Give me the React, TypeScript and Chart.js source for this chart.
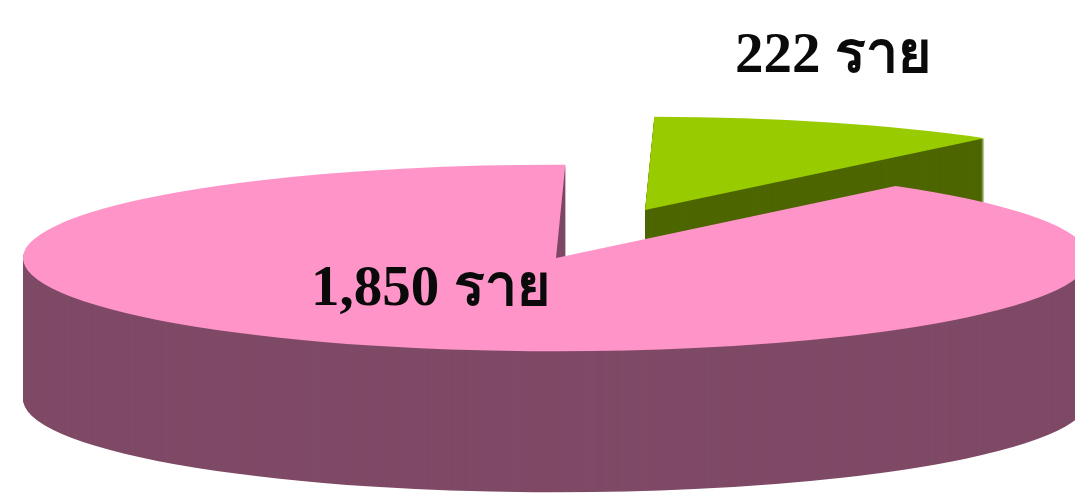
import React, { useEffect, useRef } from "react";
import { Chart, registerables } from "chart.js";

Chart.register(...registerables);

const categories = ["กลุ่ม A", "กลุ่ม B"];
const patients = [222, 1850];
const sliceLabels = ["222 ราย", "1,850 ราย"];
const topColors = ["#99cc00", "#ff94c9"];
const sideColors = ["#4d6600", "#7f4a66"];
const explode = [288, 0];

const RADIUS = 533;
const SQUASH = 0.175;
const CENTER_X = 556;
const CENTER_Y = 258;
const DEPTH = 141;
const EXPLODE_ANGLE = ((18 - 90) * Math.PI) / 180;

const drawSlice = (chart: any, i: number, color: string, dy: number) => {
  const ctx = chart.ctx;
  const arc = chart.getDatasetMeta(0).data[i];
  const saved = arc.options.backgroundColor;
  arc.options.backgroundColor = color;
  ctx.save();
  ctx.translate(CENTER_X, CENTER_Y + dy);
  ctx.scale(1, SQUASH);
  ctx.translate(Math.cos(EXPLODE_ANGLE) * explode[i], Math.sin(EXPLODE_ANGLE) * explode[i]);
  ctx.translate(-arc.x, -arc.y);
  arc.draw(ctx);
  ctx.restore();
  arc.options.backgroundColor = saved;
};

const pie3d = {
  id: "pie3d",
  beforeDatasetsDraw(chart: any) {
    // green wedge first, so the big pink slice overlaps it
    [0, 1].forEach((i) => {
      for (let d = DEPTH; d > 0; d -= 1) drawSlice(chart, i, sideColors[i], d);
      drawSlice(chart, i, topColors[i], 0);
    });
    return false;
  },
  afterDraw(chart: any) {
    const ctx = chart.ctx;
    ctx.save();
    ctx.fillStyle = "#0a0a0a";
    ctx.font = 'bold 57px "Liberation Serif", "Noto Sans CJK SC", serif';
    ctx.textBaseline = "alphabetic";
    ctx.textAlign = "left";
    ctx.fillText(sliceLabels[0], 735, 72);
    ctx.fillText(sliceLabels[1], 311, 305);
    ctx.restore();
  },
};

export default function App() {
  const ref = useRef<HTMLCanvasElement>(null);
  useEffect(() => {
    document.body.style.margin = "0";
    document.body.style.background = "#ffffff";
    const chart = new Chart(ref.current!, {
      type: "pie",
      data: {
        labels: categories,
        datasets: [
          {
            data: patients,
            backgroundColor: topColors,
            borderWidth: 0,
          },
        ],
      },
      options: {
        responsive: false,
        animation: false,
        radius: RADIUS,
        rotation: 1,
        layout: { padding: 0 },
        plugins: { legend: { display: false }, tooltip: { enabled: false }, title: { display: false } },
      } as any,
      plugins: [pie3d],
    });
    return () => chart.destroy();
  }, []);
  return <canvas ref={ref} width={1075} height={493} style={{ display: "block" }} />;
}
